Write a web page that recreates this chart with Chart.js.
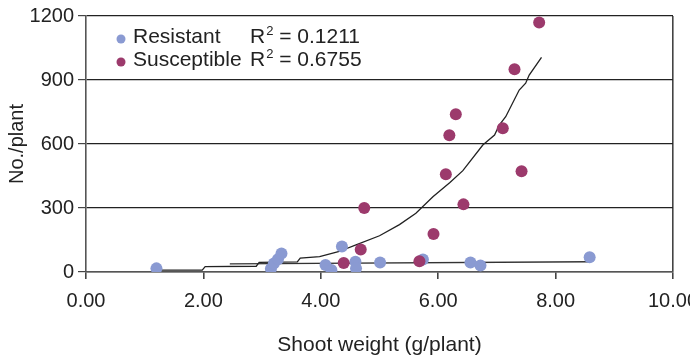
<!DOCTYPE html>
<html>
<head>
<meta charset="utf-8">
<script src="https://cdn.jsdelivr.net/npm/chart.js@4/dist/chart.umd.min.js"></script>
<style>
  html, body { margin: 0; padding: 0; background: #fff; }
  #wrap { width: 690px; height: 358px; position: relative; }
</style>
</head>
<body>
<div id="wrap"><canvas id="chart"></canvas></div>
<script>
// values
const resistantX = [1.20, 3.15, 3.20, 3.27, 3.33, 4.08, 4.18, 4.36, 4.59, 4.60, 5.01, 5.74, 6.55, 6.72, 8.58];
const resistantY = [17, 15, 40, 60, 87, 33, 9, 119, 48, 17, 45, 59, 45, 30, 69];

const susceptibleX = [4.39, 4.68, 4.74, 5.68, 5.92, 6.13, 6.19, 6.30, 6.43, 7.10, 7.30, 7.42, 7.72];
const susceptibleY = [42, 106, 300, 50, 178, 458, 641, 739, 317, 674, 950, 472, 1169];

// trend lines
const resTrendX = [2.45, 8.58];
const resTrendY = [38, 48];
const susTrendX = [1.20, 1.98, 2.03, 2.90, 2.95, 3.60, 3.65, 3.98, 4.30, 4.60, 5.00, 5.34, 5.62, 5.91, 6.20, 6.42, 6.76, 6.96, 7.04, 7.15, 7.38, 7.49, 7.55, 7.76];
const susTrendY = [9, 9, 25, 27, 45, 47, 65, 72, 95, 127, 170, 222, 275, 353, 420, 475, 595, 642, 689, 728, 853, 885, 923, 1006];

const legendLabels = ["Resistant", "Susceptible"];
const rSquared = ["0.1211", "0.6755"];
const xTicks = [0, 2, 4, 6, 8, 10];
const yTicks = [0, 300, 600, 900, 1200];

const blue = "#8a9ad2";
const plum = "#9c3a6c";
const FONT = "'Liberation Sans', Arial, sans-serif";

const pts = (xs, ys) => xs.map((x, i) => ({ x, y: ys[i] }));

// legend drawn inside the plot, top left
const insideLegend = {
  id: "insideLegend",
  afterDraw(chart) {
    const { ctx, chartArea } = chart;
    const colors = [blue, plum];
    ctx.save();
    ctx.textBaseline = "alphabetic";
    legendLabels.forEach((lab, i) => {
      const y = chartArea.top + 27 + i * 23;
      ctx.fillStyle = colors[i];
      ctx.beginPath();
      ctx.arc(chartArea.left + 35, y - 4, 4.5, 0, Math.PI * 2);
      ctx.fill();
      ctx.fillStyle = "#222";
      ctx.font = "21px " + FONT;
      ctx.fillText(lab, chartArea.left + 47, y);
      let x = chartArea.left + 164;
      ctx.fillText("R", x, y);
      x += ctx.measureText("R").width;
      ctx.font = "13px " + FONT;
      ctx.fillText("2", x + 1, y - 8);
      x += ctx.measureText("2").width + 1;
      ctx.font = "21px " + FONT;
      ctx.fillText(" = " + rSquared[i], x, y);
    });
    ctx.restore();
  }
};

new Chart(document.getElementById("chart"), {
  type: "scatter",
  data: {
    datasets: [
      { label: legendLabels[1], data: pts(susceptibleX, susceptibleY), backgroundColor: plum, pointRadius: 6, pointBorderWidth: 0 },
      { label: legendLabels[0], data: pts(resistantX, resistantY), backgroundColor: blue, pointRadius: 6, pointBorderWidth: 0 },
      { data: pts(susTrendX, susTrendY), showLine: true, borderColor: "#222", borderWidth: 1.3, pointRadius: 0, fill: false },
      { data: pts(resTrendX, resTrendY), showLine: true, borderColor: "#333", borderWidth: 1.3, pointRadius: 0, fill: false }
    ]
  },
  options: {
    responsive: true,
    maintainAspectRatio: false,
    animation: false,
    layout: { padding: { left: 0, right: 17, top: 16, bottom: 0 } },
    plugins: { legend: { display: false }, tooltip: { enabled: false } },
    scales: {
      x: {
        min: 0, max: 10,
        afterBuildTicks: s => { s.ticks = xTicks.map(v => ({ value: v })); },
        afterFit: s => { s.paddingLeft = 0; s.paddingRight = 0; s.height = 86; },
        border: { color: "#555", width: 1.6 },
        grid: {
          drawOnChartArea: true,
          color: c => (c.tick && c.tick.value === 10 ? "#444" : "rgba(0,0,0,0)"),
          lineWidth: 1.6,
          tickColor: "#444",
          tickLength: 7
        },
        ticks: { color: "#222", padding: 10, maxRotation: 0, font: { family: FONT, size: 20 },
                 callback: v => v.toFixed(2) },
        title: { display: true, text: "Shoot weight (g/plant)", color: "#222",
                 font: { family: FONT, size: 21 }, padding: { top: 0, bottom: 0 } }
      },
      y: {
        min: 0, max: 1200,
        afterBuildTicks: s => { s.ticks = yTicks.map(v => ({ value: v })); },
        afterFit: s => { s.width = 86; },
        border: { color: "#555", width: 1.6 },
        grid: { color: "#222", lineWidth: 1.2, tickColor: "#444", tickLength: 8 },
        ticks: { color: "#222", padding: 4, font: { family: FONT, size: 20 },
                 callback: v => String(v) },
        title: { display: true, text: "No./plant", color: "#222",
                 font: { family: FONT, size: 20 }, padding: { top: 5, bottom: 0 } }
      }
    }
  },
  plugins: [insideLegend]
});
</script>
</body>
</html>
